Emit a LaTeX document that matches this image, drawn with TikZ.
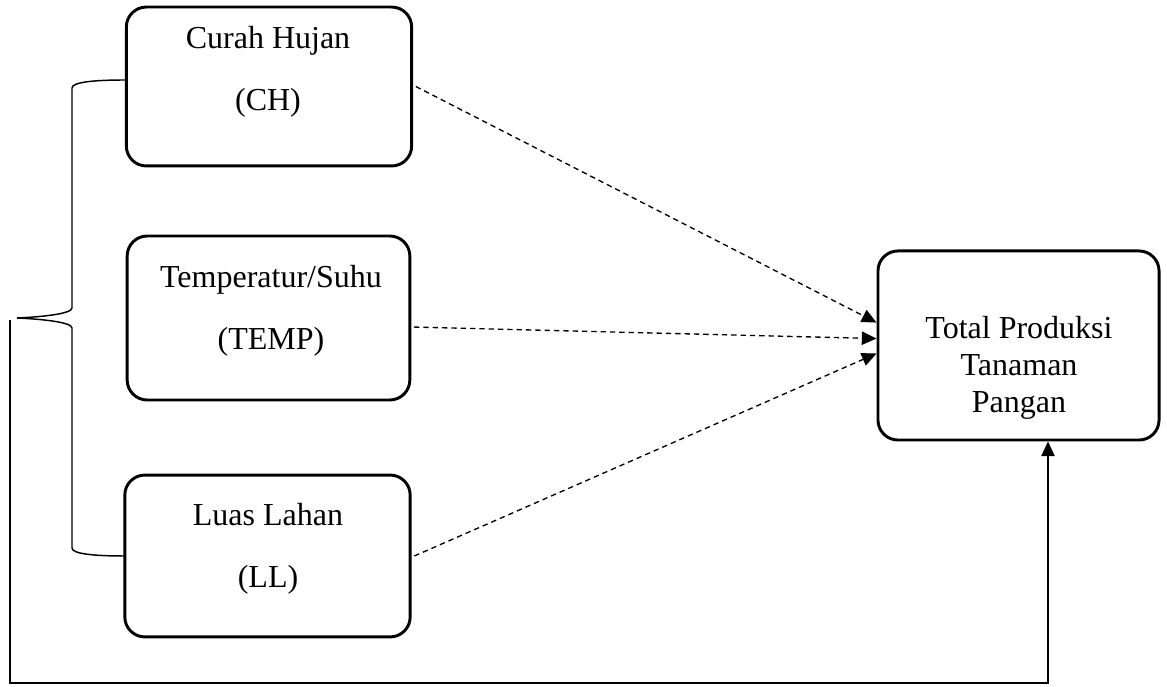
\documentclass[tikz,border=0pt]{standalone}
\usepackage{fontspec}
\setmainfont{Liberation Serif}
\usetikzlibrary{arrows.meta}

\tikzset{
  varbox/.style={draw=black, line width=1.1pt, rounded corners=7.5pt, inner sep=0pt},
  vartext/.style={align=center, inner sep=0pt, font=\fontsize{12}{23.25}\selectfont},
  tottext/.style={align=center, inner sep=0pt, font=\fontsize{12}{13.9}\selectfont},
  effect/.style={line width=0.5pt, dash pattern=on 2pt off 1.5pt, -{Triangle[length=5.5pt,width=5pt]}},
  joint/.style={line width=0.55pt, -{Triangle[length=5.5pt,width=5pt]}},
  brace/.style={line width=0.55pt}
}

\begin{document}
\begin{tikzpicture}[x=0.375pt,y=-0.375pt]
\useasboundingbox (0,0) rectangle (1167,687);

% variabel bebas
\node[varbox, minimum width=107pt, minimum height=59.6pt] (ch) at (269,86.5) {};
\node[varbox, minimum width=106pt, minimum height=61.5pt] (temp) at (268.5,318) {};
\node[varbox, minimum width=107pt, minimum height=60.7pt] (ll) at (267.5,556) {};
% variabel terikat
\node[varbox, minimum width=105.4pt, minimum height=70.9pt] (tot) at (1018.5,345.5) {};

\node[vartext] (chtxt) at (268,72) {Curah Hujan\\(CH)};
\node[vartext] (temptxt) at (271,311) {Temperatur/Suhu\\(TEMP)};
\node[vartext] (lltxt) at (268,549) {Luas Lahan\\(LL)};
\node[tottext] (tottxt) at (1019,368) {Total Produksi\\Tanaman\\Pangan};

% pengaruh parsial
\draw[effect] ([xshift=1pt]ch.east) -- ([yshift=8.6pt]tot.west);
\draw[effect] ([xshift=1pt,yshift=-3.4pt]temp.east) -- ([yshift=2.6pt]tot.west);
\draw[effect] ([xshift=1pt]ll.east) -- ([yshift=-3pt]tot.west);

% kurung kurawal
\draw[brace] (125,80) .. controls (95,80) and (72,82) .. (72,88) -- (72,308)
  .. controls (72,314) and (40,317) .. (17,318)
  .. controls (40,319) and (72,322) .. (72,328) -- (72,548)
  .. controls (72,554) and (95,556) .. (125,556);

% pengaruh simultan
\coordinate (simstart) at (10,320);
\coordinate (simcorner) at (1048,683);
\draw[joint] (simstart) |- (simcorner) -- (simcorner |- tot.south);
\end{tikzpicture}
\end{document}
